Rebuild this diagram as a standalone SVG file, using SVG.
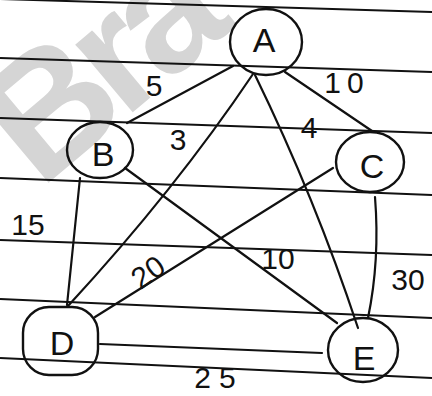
<svg xmlns="http://www.w3.org/2000/svg" width="432" height="396" viewBox="0 0 432 396">
<style>
.rule{stroke:#111;stroke-width:2;fill:none}
.edge{stroke:#111;stroke-width:2.2;fill:none;stroke-linecap:round}
.node{stroke:#111;stroke-width:2.4;fill:none}
.lbl{font-family:"Liberation Sans","DejaVu Sans",sans-serif;font-size:34px;fill:#111;text-anchor:middle;dominant-baseline:central}
.w{font-family:"Liberation Sans","DejaVu Sans",sans-serif;font-size:30px;fill:#111;text-anchor:middle;dominant-baseline:central}
.wm{font-family:"Liberation Sans","DejaVu Sans",sans-serif;font-size:168px;font-weight:bold;fill:#d5d5d5;letter-spacing:-12px}
</style>
<rect width="432" height="396" fill="#ffffff"/>
<text class="wm" transform="translate(40,190) rotate(-40)">Bra</text>
<g id="rules">
<line class="rule" x1="0" y1="-1" x2="432" y2="12"/>
<line class="rule" x1="0" y1="58" x2="432" y2="72"/>
<line class="rule" x1="0" y1="118" x2="432" y2="133"/>
<line class="rule" x1="0" y1="178" x2="432" y2="195"/>
<line class="rule" x1="0" y1="240" x2="432" y2="255"/>
<line class="rule" x1="0" y1="299" x2="432" y2="318"/>
<line class="rule" x1="0" y1="358" x2="432" y2="378"/>
</g>
<g id="connectors">
<path class="edge" d="M233,66 L127,123"/>
<path class="edge" d="M285,72 L372,131"/>
<path class="edge" d="M253,74 Q175,190 68,306"/>
<path class="edge" d="M255,75 Q315,198 358,328"/>
<path class="edge" d="M125,168 L337,323"/>
<path class="edge" d="M80,178 L67,305"/>
<path class="edge" d="M333,168 L95,317"/>
<path class="edge" d="M375,197 Q380,260 368,318"/>
<path class="edge" d="M100,344 Q210,348 322,353"/>
</g>
<g id="weights">
<text class="w" x="154" y="85">5</text>
<text class="w" x="347" y="82" letter-spacing="6">10</text>
<text class="w" x="178" y="139">3</text>
<text class="w" x="309" y="127">4</text>
<text class="w" x="28" y="224">15</text>
<text class="w" x="148" y="272" transform="rotate(-35 148 272)">20</text>
<text class="w" x="278" y="258">10</text>
<text class="w" x="408" y="279">30</text>
<text class="w" x="219" y="377" letter-spacing="8">25</text>
</g>
<g id="node-A">
<ellipse class="node" cx="266" cy="42" rx="36" ry="33"/>
<text class="lbl" x="264" y="40">A</text>
</g>
<g id="node-B">
<ellipse class="node" cx="100" cy="150" rx="33" ry="28"/>
<text class="lbl" x="103" y="154">B</text>
</g>
<g id="node-C">
<ellipse class="node" cx="370" cy="162" rx="34" ry="30"/>
<text class="lbl" x="372" y="166">C</text>
</g>
<g id="node-D">
<rect class="node" x="23" y="307" width="75" height="68" rx="26" ry="26"/>
<text class="lbl" x="62" y="343">D</text>
</g>
<g id="node-E">
<ellipse class="node" cx="363" cy="350" rx="35" ry="32"/>
<text class="lbl" x="364" y="358">E</text>
</g>
</svg>
